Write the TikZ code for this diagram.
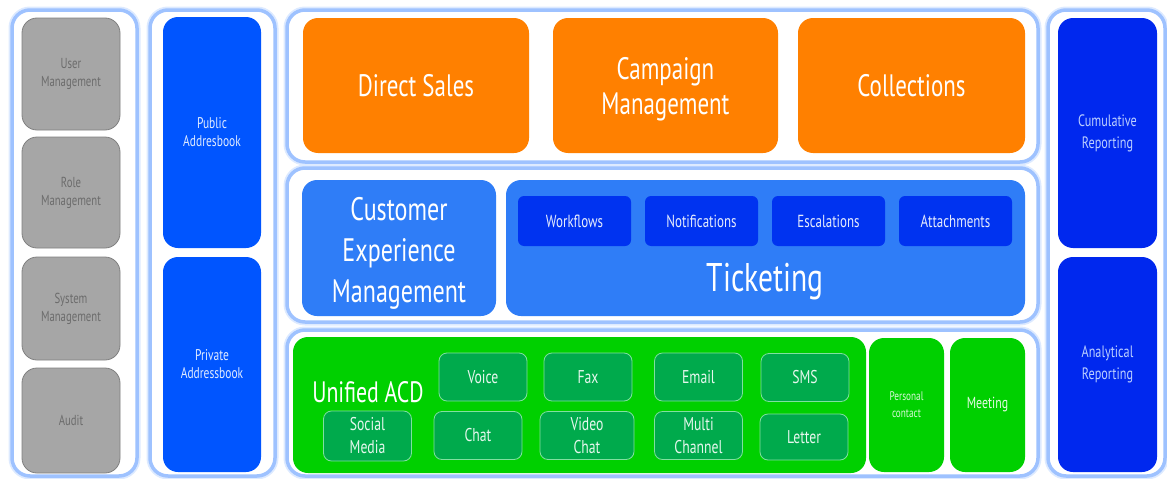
\documentclass[tikz,border=0pt]{standalone}
\usepackage{fontspec}
\newfontfamily\agency[FakeStretch=0.74]{PT Sans}
\usetikzlibrary{positioning}

\definecolor{rimblue}{HTML}{9EC2FF}
\definecolor{glowblue}{HTML}{DDEAFF}
\definecolor{mgmtgray}{HTML}{A6A6A6}
\definecolor{mgmtline}{HTML}{808080}
\definecolor{mgmttext}{HTML}{6C6C6C}
\definecolor{addrblue}{HTML}{0055FF}
\definecolor{salesorange}{HTML}{FF8000}
\definecolor{cemblue}{HTML}{2F7DF7}
\definecolor{tickblue}{HTML}{0033F0}
\definecolor{acdgreen}{HTML}{00D000}
\definecolor{changreen}{HTML}{00AA4C}
\definecolor{chanline}{HTML}{80E0A0}
\definecolor{repblue}{HTML}{0028EE}
\definecolor{reptext}{HTML}{BCCFFF}

\begin{document}
\begin{tikzpicture}[x=1pt,y=-1pt]
\tikzset{
    % light blue framed containers
    outerbox/.style={
           rectangle,
           rounded corners=18pt,
           draw=rimblue, line width=3.5pt,
           preaction={draw=glowblue, line width=7pt},
           fill=white,
           inner sep=0pt},
    % coloured blocks
    block/.style={
           rectangle,
           rounded corners=15pt,
           inner sep=0pt,
           align=center,
           text=white},
    graybox/.style={
           block,
           fill=mgmtgray, draw=mgmtline, thick,
           text=mgmttext,
           minimum width=98pt,
           font=\agency\fontsize{14.5}{18}\selectfont},
    addrbox/.style={
           block,
           fill=addrblue,
           text=white!88!addrblue,
           minimum width=98pt,
           font=\agency\fontsize{15.5}{18}\selectfont},
    salesbox/.style={
           block,
           fill=salesorange,
           minimum height=135pt,
           font=\agency\fontsize{31}{35}\selectfont},
    cembox/.style={
           block,
           fill=cemblue,
           minimum height=136pt},
    tickbox/.style={
           rectangle,
           rounded corners=6pt,
           fill=tickblue,
           text=white!90!tickblue,
           minimum width=113pt,
           minimum height=50pt,
           font=\agency\fontsize{17.5}{20}\selectfont},
    acdbox/.style={
           block,
           fill=acdgreen,
           minimum height=134pt},
    chanbox/.style={
           rectangle,
           rounded corners=8pt,
           fill=changreen, draw=chanline, thick,
           text=white!90!changreen,
           align=center,
           inner sep=0pt,
           minimum width=88pt,
           minimum height=48pt,
           font=\agency\fontsize{18.5}{23}\selectfont},
    repbox/.style={
           block,
           fill=repblue,
           text=reptext,
           minimum width=99pt,
           font=\agency\fontsize{16.5}{22}\selectfont}
}
\useasboundingbox (0,0) rectangle (1167,479);

%containers
\node[outerbox,minimum width=125pt,minimum height=466pt] (mgmtcol) at (74.5,243) {};
\node[outerbox,minimum width=125pt,minimum height=466pt] (addrcol) at (212.5,243) {};
\node[outerbox,minimum width=751pt,minimum height=152pt] (salesrow) at (662.5,86) {};
\node[outerbox,minimum width=751pt,minimum height=154pt] (ticketrow) at (662.5,245) {};
\node[outerbox,minimum width=751pt,minimum height=146pt] (acdrow) at (662.5,403) {};
\node[outerbox,minimum width=117pt,minimum height=466pt] (repcol) at (1106.5,243) {};

%management
\node[graybox,minimum height=112pt] (usermgmt) at (71,74) {User\\Management};
\node[graybox,minimum height=111pt] (rolemgmt) at (71,192.5) {Role\\Management};
\node[graybox,minimum height=103pt] (sysmgmt) at (71,308.5) {System\\Management};
\node[graybox,minimum height=105pt] (audit) at (71,420.5) {Audit};

%addressbooks
\node[addrbox,minimum height=231pt] (pubaddr) at (212,132.5) {Public\\Addresbook};
\node[addrbox,minimum height=215pt] (privaddr) at (212,364.5) {Private\\Addressbook};

%sales
\node[salesbox,minimum width=226pt] (direct) at (416,85.5) {Direct Sales};
\node[salesbox,minimum width=225pt] (campaign) at (665.5,85.5) {};
\node[align=center,text=white,font=\agency\fontsize{31}{35}\selectfont] (campaignlbl) at (665.5,89) {Campaign\\Management};
\node[salesbox,minimum width=227pt] (collect) at (911.5,85.5) {Collections};

%ticketing
\node[cembox,minimum width=194pt] (cem) at (399,248) {};
\node[align=center,text=white,font=\agency\fontsize{32.5}{41}\selectfont] (cemlbl) at (399,253) {Customer\\Experience\\Management};
\node[cembox,minimum width=519pt] (ticketing) at (765.5,248) {};
\node[text=white,font=\agency\fontsize{40}{44}\selectfont] (ticketlbl) at (765,282) {Ticketing};
\node[tickbox] (workflows) at (574.5,221) {Workflows};
\node[tickbox] (notify) at (701.5,221) {Notifications};
\node[tickbox] (escal) at (828.5,221) {Escalations};
\node[tickbox] (attach) at (955.5,221) {Attachments};

%unified acd
\node[acdbox,minimum width=573pt,minimum height=136pt] (acd) at (579.5,405) {};
\node[text=white,font=\agency\fontsize{29.5}{35}\selectfont] (acdlbl) at (368,392) {Unified ACD};
\node[chanbox] (voice) at (483,377) {Voice};
\node[chanbox] (fax) at (588,377) {Fax};
\node[chanbox] (email) at (698.5,377) {Email};
\node[chanbox] (sms) at (805,377.5) {SMS};
\node[chanbox,minimum height=50pt] (social) at (367.5,436) {Social\\Media};
\node[chanbox] (chat) at (478,435.5) {Chat};
\node[chanbox,minimum width=94pt] (video) at (587,435.5) {Video\\Chat};
\node[chanbox] (multi) at (698.5,435.5) {Multi\\Channel};
\node[chanbox,minimum height=46pt] (letter) at (804,437) {Letter};
\node[acdbox,minimum width=75pt,text=white!85!acdgreen,font=\agency\fontsize{12.5}{17}\selectfont] (personal) at (906.5,405) {Personal\\contact};
\node[acdbox,minimum width=75pt,text=white!90!acdgreen,font=\agency\fontsize{16}{18}\selectfont] (meeting) at (987.5,405) {Meeting};

%reporting
\node[repbox,minimum height=230pt] (cumul) at (1107.5,133) {Cumulative\\Reporting};
\node[repbox,minimum height=215pt] (analyt) at (1107.5,364.5) {Analytical\\Reporting};

\end{tikzpicture}
\end{document}
